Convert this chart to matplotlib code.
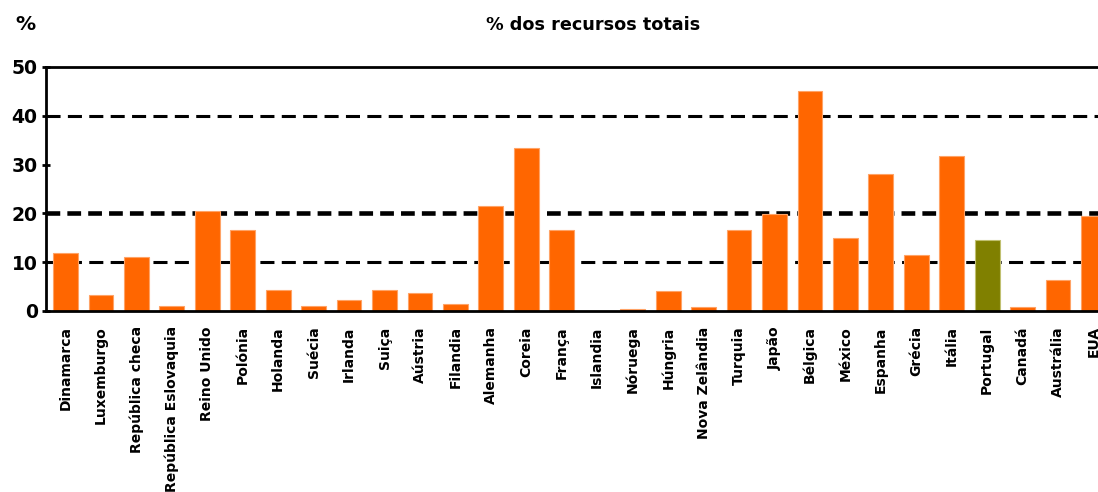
import matplotlib
matplotlib.use("Agg")
import matplotlib.pyplot as plt
import matplotlib.patheffects as pe

countries = ["Dinamarca", "Luxemburgo", "República checa", "República Eslovaquia",
             "Reino Unido", "Polónia", "Holanda", "Suécia", "Irlanda", "Suiça",
             "Aústria", "Filandia", "Alemanha", "Coreia", "França", "Islandia",
             "Nóruega", "Húngria", "Nova Zelândia", "Turquia", "Japão", "Bélgica",
             "México", "Espanha", "Grécia", "Itália", "Portugal", "Canadá",
             "Austrália", "EUA"]
values = [11.8, 3.3, 11.0, 1.1, 20.4, 16.5, 4.3, 1.1, 2.2, 4.3,
          3.7, 1.4, 21.5, 33.5, 16.5, 0.0, 0.4, 4.1, 0.8, 16.5,
          19.8, 45.1, 14.9, 28.0, 11.5, 31.7, 14.5, 0.9, 6.4, 19.4]
highlight = "Portugal"
yticks = [0, 10, 20, 30, 40, 50]
grid_levels = [10, 20, 40]

orange = "#FF6600"
olive = "#808000"

W, H = 1098, 492
fig = plt.figure(figsize=(W / 100, H / 100), dpi=100)
left, right, top, bottom = 46, 1113, 67, 311
ax = fig.add_axes([left / W, 1 - bottom / H, (right - left) / W, (bottom - top) / H])

x = list(range(len(countries)))
colors = [olive if c == highlight else orange for c in countries]
edges = ["#c0c070" if c == highlight else "#ffa366" for c in countries]
ax.bar(x, values, width=0.7, color=colors, edgecolor=edges, linewidth=0.8, zorder=3)

for g in grid_levels:
    if g == 20:
        ax.axhline(g, color="black", lw=3.3, linestyle=(0, (3.0, 1.55)), zorder=2)
    else:
        ax.axhline(g, color="black", lw=2.2, linestyle=(0, (4.6, 2.4)), zorder=2)

ax.set_xlim(-0.55, len(countries) - 0.45)
ax.set_ylim(0, 50)
ax.set_yticks(yticks)
ax.set_yticklabels([str(t) for t in yticks], fontsize=13.5, fontweight="bold")
ax.tick_params(axis="y", direction="inout", length=6, width=2, pad=3)
ax.set_xticks(x)
ax.set_xticklabels(countries, rotation=90, fontsize=10, fontweight="bold", va="top", ha="center")
ax.tick_params(axis="x", length=0, pad=11)
for s in ax.spines.values():
    s.set_linewidth(2)
    s.set_zorder(4)
    s.set_path_effects([pe.SimplePatchShadow(offset=(-1.5, -2), alpha=0.25, shadow_rgbFace="gray"),
                        pe.Normal()])

fig.text(593 / W, 1 - 25 / H, "% dos recursos totais", ha="center", va="center",
         fontsize=12.7, fontweight="bold")
fig.text(25 / W, 1 - 25 / H, "%", ha="center", va="center", fontsize=14.5, fontweight="bold")

fig.savefig("out.png", dpi=100)
